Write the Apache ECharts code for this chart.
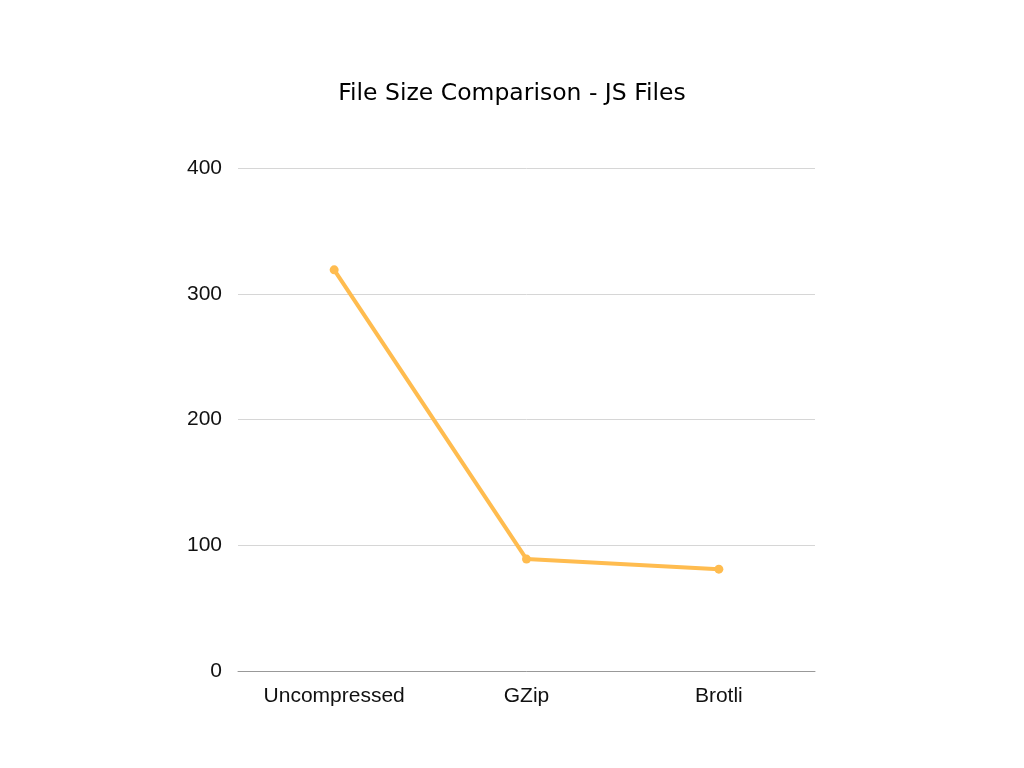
<!DOCTYPE html>
<html><head><meta charset="utf-8">
<script src="https://cdn.jsdelivr.net/npm/echarts@6/dist/echarts.min.js"></script>
<style>html,body{margin:0;padding:0;background:#fff}#c{width:1024px;height:768px}</style>
</head><body><div id="c"></div>
<script>
const categories = ["Uncompressed", "GZip", "Brotli"];
const sizes = [319, 89, 81];
const yTicks = [0, 100, 200, 300, 400];

const chart = echarts.init(document.getElementById('c'), null, {renderer: 'canvas'});
chart.setOption({
  backgroundColor: '#ffffff',
  animation: false,
  title: {
    text: 'File Size Comparison - JS Files',
    left: 'center', top: 77,
    textStyle: {fontFamily: 'DejaVu Sans', fontSize: 23.5, fontWeight: 'normal', color: '#000'}
  },
  grid: {left: 238, right: 209, top: 168, bottom: 97, containLabel: false},
  xAxis: {
    type: 'category', data: categories, boundaryGap: true,
    axisLine: {lineStyle: {color: '#999', width: 1}},
    axisTick: {show: false},
    axisLabel: {color: '#111', fontFamily: 'Liberation Sans', fontSize: 21, margin: 15}
  },
  yAxis: {
    type: 'value', min: yTicks[0], max: yTicks[yTicks.length - 1], interval: 100,
    axisLine: {show: false}, axisTick: {show: false},
    splitLine: {lineStyle: {color: '#d6d6d6', width: 1}},
    axisLabel: {color: '#111', fontFamily: 'Liberation Sans', fontSize: 21, margin: 16}
  },
  series: [{
    type: 'line', data: sizes,
    symbol: 'circle', symbolSize: 9,
    lineStyle: {color: '#FFBC4F', width: 4},
    itemStyle: {color: '#FFBC4F'}
  }]
});
</script></body></html>
